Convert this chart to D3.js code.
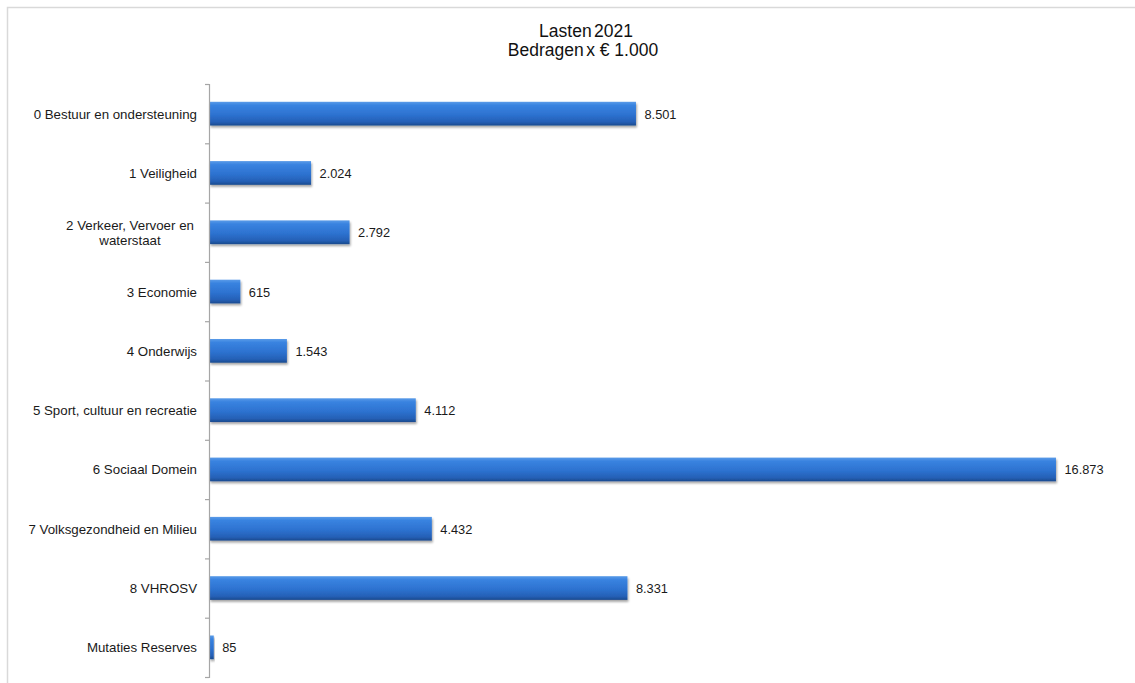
<!DOCTYPE html>
<html>
<head>
<meta charset="utf-8">
<script src="https://cdn.jsdelivr.net/npm/d3@7"></script>
<style>
  html, body { margin: 0; padding: 0; background: #ffffff; }
  svg { display: block; }
  text { font-family: "Liberation Sans", Arial, sans-serif; }
</style>
</head>
<body>
<svg id="chart" width="1135" height="683"></svg>
<script>
const titleLines = ["Lasten 2021", "Bedragen x € 1.000"];
const categories = [
  "0 Bestuur en ondersteuning",
  "1 Veiligheid",
  "2 Verkeer, Vervoer en|waterstaat",
  "3 Economie",
  "4 Onderwijs",
  "5 Sport, cultuur en recreatie",
  "6 Sociaal Domein",
  "7 Volksgezondheid en Milieu",
  "8 VHROSV",
  "Mutaties Reserves"
];
const values = [8501, 2024, 2792, 615, 1543, 4112, 16873, 4432, 8331, 85];
const valueLabels = ["8.501", "2.024", "2.792", "615", "1.543", "4.112", "16.873", "4.432", "8.331", "85"];

(function () {
const svg = d3.select("#chart");
const W = 1135, H = 683;
const mLeft = 209, mRight = 1112, mTop = 84, mBottom = 677;

// border
svg.append("path")
  .attr("d", `M7.5,${H} L7.5,7.5 L${W},7.5`)
  .attr("fill", "none").attr("stroke", "#d9d9d9").attr("stroke-width", 1.5);

// defs
const defs = svg.append("defs");
const grad = defs.append("linearGradient").attr("id", "barGrad")
  .attr("x1", 0).attr("y1", 0).attr("x2", 0).attr("y2", 1);
grad.append("stop").attr("offset", "0%").attr("stop-color", "#5a9be8");
grad.append("stop").attr("offset", "15%").attr("stop-color", "#3983e0");
grad.append("stop").attr("offset", "55%").attr("stop-color", "#2d72d0");
grad.append("stop").attr("offset", "85%").attr("stop-color", "#2560b6");
grad.append("stop").attr("offset", "100%").attr("stop-color", "#1a4a8e");
const filt = defs.append("filter").attr("id", "shadow")
  .attr("x", "-5%").attr("y", "-30%").attr("width", "115%").attr("height", "180%");
filt.append("feDropShadow").attr("dx", 1).attr("dy", 2).attr("stdDeviation", 1.2)
  .attr("flood-color", "#000").attr("flood-opacity", 0.35);

// title
svg.append("text").attr("x", 586).attr("y", 37).attr("text-anchor", "middle")
  .attr("font-size", 17.5).attr("fill", "#111").attr("word-spacing", -2.5).text(titleLines[0]);
const t2 = svg.append("text").attr("x", 583).attr("y", 56).attr("text-anchor", "middle")
  .attr("font-size", 17.5).attr("fill", "#111");
const w2 = titleLines[1].split(" ");
t2.append("tspan").attr("word-spacing", -2.5).text(w2[0] + " ");
t2.append("tspan").text(w2.slice(1).join(" "));

const x = d3.scaleLinear().domain([0, 18000]).range([mLeft, mRight]);
const y = d3.scaleBand().domain(categories).range([mTop, mBottom]).paddingInner(0.6).paddingOuter(0.3);
const yIdx = d3.scaleLinear().domain([0, categories.length]).range([mTop, mBottom]);

// bars
svg.append("g").selectAll("rect").data(values).join("rect")
  .attr("x", x(0) + 0.5)
  .attr("y", (d, i) => y(categories[i]))
  .attr("width", d => x(d) - x(0))
  .attr("height", y.bandwidth())
  .attr("fill", "url(#barGrad)")
  .attr("filter", "url(#shadow)");

// axis
const axis = svg.append("g").attr("transform", `translate(${mLeft},0)`)
  .call(d3.axisLeft(yIdx).ticks(categories.length).tickSize(4).tickFormat(""));
axis.selectAll("path, line").attr("stroke", "#a6a6a6").attr("stroke-width", 1.2);

// category labels
const labels = svg.append("g").selectAll("text").data(categories).join("text")
  .attr("font-size", 13.3).attr("fill", "#1a1a1a")
  .attr("text-anchor", "end");
labels.each(function(c) {
  const parts = c.split("|");
  const t = d3.select(this);
  const cy = y(c) + y.bandwidth() / 2;
  if (parts.length === 1) {
    t.attr("x", 197).attr("y", cy + 5).text(parts[0]);
  } else {
    t.attr("text-anchor", "middle");
    t.append("tspan").attr("x", 130).attr("y", cy - 2.5).text(parts[0]);
    t.append("tspan").attr("x", 130).attr("y", cy + 13).text(parts[1]);
  }
});

// value labels
svg.append("g").selectAll("text").data(values).join("text")
  .attr("x", d => x(d) + 9)
  .attr("y", (d, i) => y(categories[i]) + y.bandwidth() / 2 + 5)
  .attr("font-size", 12.8).attr("fill", "#1a1a1a")
  .text((d, i) => valueLabels[i]);
})();
</script>
</body>
</html>
